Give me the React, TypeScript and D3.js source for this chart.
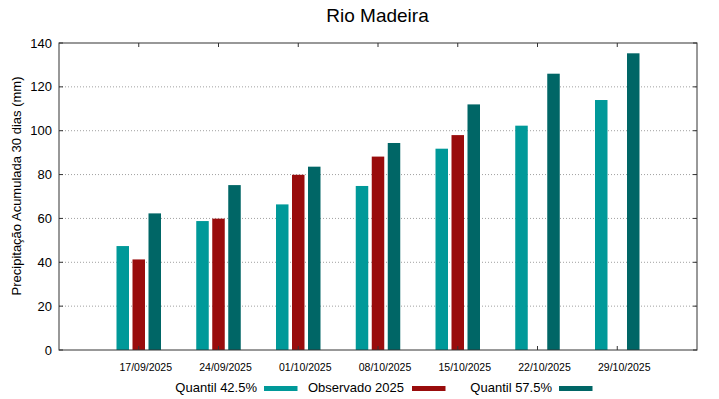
import React from "react";
import * as d3 from "d3";

const categories = ["17/09/2025", "24/09/2025", "01/10/2025", "08/10/2025", "15/10/2025", "22/10/2025", "29/10/2025"];
const quantil425 = [47.4, 58.8, 66.4, 74.8, 91.8, 102.3, 114.0];
const observado2025: (number | null)[] = [41.3, 59.9, 79.9, 88.2, 98.0, null, null];
const quantil575 = [62.3, 75.2, 83.6, 94.4, 112.0, 126.0, 135.3];
const yTicks = [0, 20, 40, 60, 80, 100, 120, 140];

const seriesNames = ["Quantil 42.5%", "Observado 2025", "Quantil 57.5%"];
const seriesColors = ["#009999", "#990c0c", "#006666"];

export default function App() {
  const W = 719, H = 399;
  const left = 59, right = 697, top = 43, bottom = 350;
  const x = d3.scaleLinear().domain([-1, categories.length]).range([left, right]);
  const y = d3.scaleLinear().domain([0, 140]).range([bottom, top]);
  const barW = 12.5;
  const step = 16;
  const series = [quantil425, observado2025, quantil575];
  const font = "'Liberation Sans', Arial, sans-serif";

  const legendItems = [
    { textEnd: 257, sw: 264 },
    { textEnd: 404, sw: 412 },
    { textEnd: 552, sw: 559 },
  ];

  return (
    <svg width={W} height={H} style={{ position: "absolute", left: 0, top: 0, fontFamily: font }}>
      <rect x={0} y={0} width={W} height={H} fill="#fff" />
      <text x={377.5} y={22} textAnchor="middle" fontSize={19} fill="#000">Rio Madeira</text>
      {yTicks.filter((t) => t > 0 && t < 140).map((t) => (
        <line key={"g" + t} x1={left} x2={right} y1={y(t)} y2={y(t)} stroke="#a0a0a0" strokeWidth={1} strokeDasharray="1,2" />
      ))}
      {series.map((vals, si) =>
        vals.map((v, i) =>
          v == null ? null : (
            <rect
              key={si + "-" + i}
              x={x(i) + (si - 1) * step - barW / 2}
              y={y(v)}
              width={barW}
              height={y(0) - y(v)}
              fill={seriesColors[si]}
            />
          )
        )
      )}
      {yTicks.map((t) => (
        <g key={"t" + t}>
          <line x1={left} x2={left + 4} y1={y(t)} y2={y(t)} stroke="#333" />
          <line x1={right - 4} x2={right} y1={y(t)} y2={y(t)} stroke="#333" />
          <text x={52} y={y(t)} dy="0.35em" textAnchor="end" fontSize={13} fill="#000">{t}</text>
        </g>
      ))}
      {categories.map((c, i) => (
        <g key={c}>
          <line x1={x(i)} x2={x(i)} y1={bottom} y2={bottom - 4} stroke="#333" />
          <line x1={x(i)} x2={x(i)} y1={top} y2={top + 4} stroke="#333" />
          <text x={x(i) + 7} y={371} textAnchor="middle" fontSize={10.5} fill="#000">{c}</text>
        </g>
      ))}
      <rect x={left} y={top} width={right - left} height={bottom - top} fill="none" stroke="#333" strokeWidth={1} />
      <text
        transform={`translate(21,186) rotate(-90)`}
        textAnchor="middle"
        fontSize={13}
        fill="#000"
      >
        Precipitação Acumulada 30 dias (mm)
      </text>
      {seriesNames.map((n, i) => (
        <g key={n}>
          <text x={legendItems[i].textEnd} y={391.5} textAnchor="end" fontSize={13} fill="#000">{n}</text>
          <rect x={legendItems[i].sw} y={386} width={33.5} height={5} fill={seriesColors[i]} />
        </g>
      ))}
    </svg>
  );
}
